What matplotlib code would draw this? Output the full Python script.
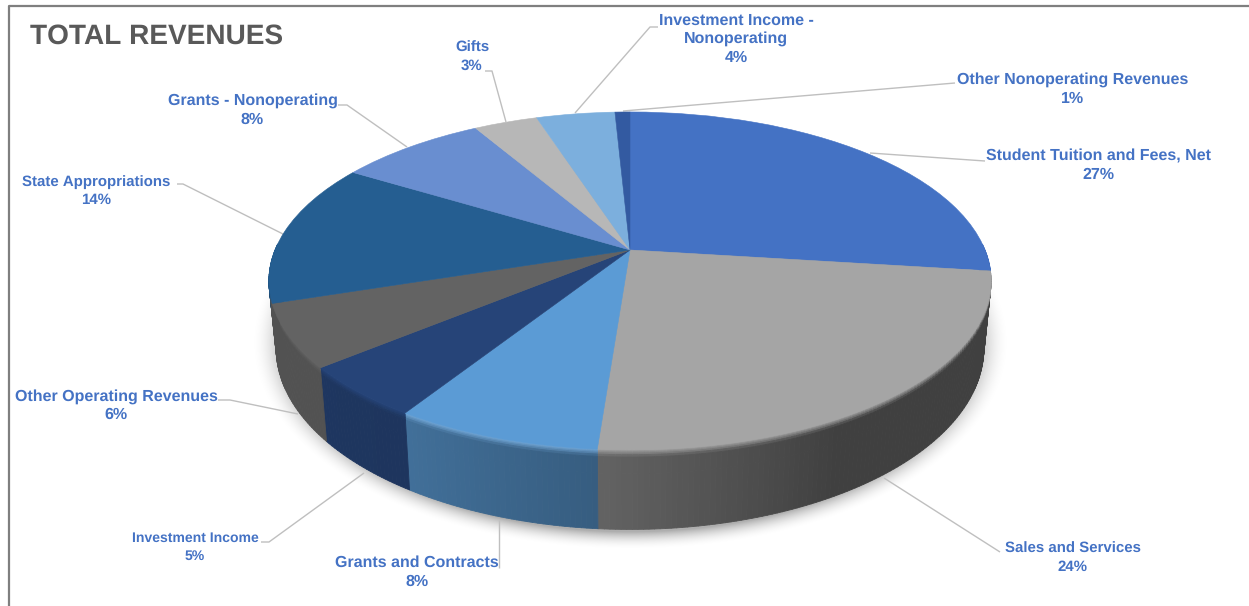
import numpy as np
import matplotlib
matplotlib.use("Agg")
import matplotlib.pyplot as plt
from matplotlib.collections import PolyCollection
from matplotlib.colors import to_rgb
from matplotlib.transforms import Transform

# ---- data ----
categories = ["Student Tuition and Fees, Net", "Sales and Services", "Grants and Contracts",
              "Investment Income", "Other Operating Revenues", "State Appropriations",
              "Grants - Nonoperating", "Gifts", "Investment Income -\nNonoperating",
              "Other Nonoperating Revenues"]
values = [27.0, 24.2, 7.8, 5.0, 6.0, 13.7, 7.9, 3.4, 4.2, 0.8]

# ---- styles / layout ----
colors = ["#4472C4", "#A5A5A5", "#5B9BD5", "#264478", "#636363",
          "#255E91", "#698ED0", "#B7B7B7", "#7CAFDD", "#335AA1"]
side_left = [.55, .60, .72, .80, .83, .80, .8, .8, .8, .8]
side_right = [.50, .39, .60, .78, .83, .80, .8, .8, .8, .8]
label_xy = [(1098, 165.5), (1073, 558), (417, 572), (195, 547), (116, 405.5),
            (96, 191), (252.5, 110), (472, 57), (736, 39), (1073, 89)]
label_size = [11.4, 11.0, 11.4, 10.2, 11.4, 11.0, 11.4, 11.0, 11.4, 11.4]
leaders = [[(870, 153), (985, 161)],
           [(884, 478), (1000, 552)],
           [(498.7, 520), (498.7, 568)],
           [(364, 473), (269, 542), (261, 542)],
           [(298, 414), (230, 400), (218, 400)],
           [(285, 235), (183, 184), (177, 184)],
           [(407, 147), (347, 105), (338, 105)],
           [(506, 122), (492, 71), (485, 71)],
           [(575, 113), (650, 27), (658, 27)],
           [(623, 111), (955, 83)]]

CX, CY, RX, RY, P = 630.0, 250.0, 355.0, 163.3, 0.183
DEPTH, SHRINK = 65.0, 0.98


class Perspective(Transform):
    """Maps the unit pie circle onto the tilted top face, in pixel coordinates."""
    input_dims = output_dims = 2
    is_separable = False

    def transform_non_affine(self, xy):
        xy = np.asarray(xy, float)
        w = 1 + P * xy[:, 1]
        return np.column_stack([CX + RX * xy[:, 0] / w, CY - RY * xy[:, 1] / w])


persp = Perspective()


def blend(a, b, t):
    return tuple((1 - t) * np.array(a) + t * np.array(b))


plt.rcParams["font.family"] = ["Liberation Sans", "DejaVu Sans"]
plt.rcParams["text.hinting"] = "no_hinting"
plt.rcParams["text.hinting_factor"] = 1
fig = plt.figure(figsize=(12.49, 6.06), dpi=100, facecolor="white")
ax = fig.add_axes([0, 0, 1, 1])

# top faces, through the library's pie layout
wedges, _ = ax.pie(values, colors=colors, startangle=90, counterclock=False,
                   wedgeprops={"linewidth": 0.4, "zorder": 5})
for w, c in zip(wedges, colors):
    w.set_edgecolor(c)
    w.set_transform(persp + ax.transData)
    w.set_clip_on(False)
ax.set_aspect("auto")
ax.axis("off")

# soft shadow under the pie
yy, xx = np.mgrid[0:606, 0:1249]
r = np.sqrt(((xx - 630) / 380.0) ** 2 + ((yy - 342) / 208.0) ** 2)
alpha = np.clip((1.0 - r) / 0.09, 0, 1) ** 2 * 0.32
shadow = np.zeros((606, 1249, 4))
shadow[..., 3] = alpha
ax.imshow(shadow, extent=(0, 1249, 606, 0), aspect="auto", zorder=1, interpolation="bilinear")
ax.set_xlim(0, 1249)
ax.set_ylim(606, 0)

# extruded side wall
fractions = np.array([0, .012, .025, .04, .06, .09, .3, 1.0])
edges = np.cumsum([0] + values) / sum(values) * 360.0
other_wall = tuple(np.array(to_rgb(colors[4])) * side_left[4])
polys, fcs = [], []
for i, c in enumerate(colors):
    lo, hi = max(edges[i], 88), min(edges[i + 1], 272)
    if hi <= lo:
        continue
    base = to_rgb(c)
    rim = blend(base, (1, 1, 1), 0.16) if i == 2 else base
    angs = np.arange(lo, hi + 0.75, 0.75)
    angs[-1] = hi
    for a0, a1 in zip(angs[:-1], angs[1:]):
        t = ((a0 + a1) / 2 - edges[i]) / (edges[i + 1] - edges[i])
        t = np.clip((t - 0.62) / 0.38, 0, 1) if i == 1 else t
        f = side_right[i] + (side_left[i] - side_right[i]) * t
        wall = tuple(np.array(base) * f)
        th = np.radians([a0, a1])
        top = persp.transform_non_affine(np.column_stack([np.sin(th), np.cos(th)]))
        wv = 1 + P * np.cos(th)

        def pt(j, d):
            return (CX + (top[j, 0] - CX) * (1 - (1 - SHRINK) * d),
                    top[j, 1] + d * DEPTH / wv[j])
        for k in range(len(fractions) - 1):
            d0, d1 = fractions[k], fractions[k + 1]
            if i == 5 and d0 >= .3:
                colour = other_wall
            else:
                colour = blend(rim, wall, min(1.0, ((d0 + d1) / 2) / 0.09))
            polys.append([pt(0, d0), pt(1, d0), pt(1, d1), pt(0, d1)])
            fcs.append(colour)
ax.add_collection(PolyCollection(polys, facecolors=fcs, edgecolors=fcs, linewidths=0.6, zorder=3))

# leader lines
for pts in leaders:
    xs, ys = zip(*pts)
    ax.plot(xs, ys, color="#BFBFBF", lw=1.0, zorder=2, solid_capstyle="butt")

# labels
for name, v, (x, y), s in zip(categories, values, label_xy, label_size):
    ax.text(x, y, f"{name}\n{round(v)}%", ha="center", va="center", ma="center", color="#4472C4",
            fontsize=s, fontweight="bold", linespacing=1.33 * 11.4 / s, zorder=8)

ax.text(30.5, 36, "TOTAL REVENUES", ha="left", va="center", color="#595959",
        fontsize=20.5, fontweight="bold", zorder=8)

# outer frame
ax.plot([9, 9, 1249], [606, 6, 6], color="#7F7F7F", lw=1.6, zorder=9, clip_on=False)

fig.savefig("out.png", dpi=100, facecolor="white")
